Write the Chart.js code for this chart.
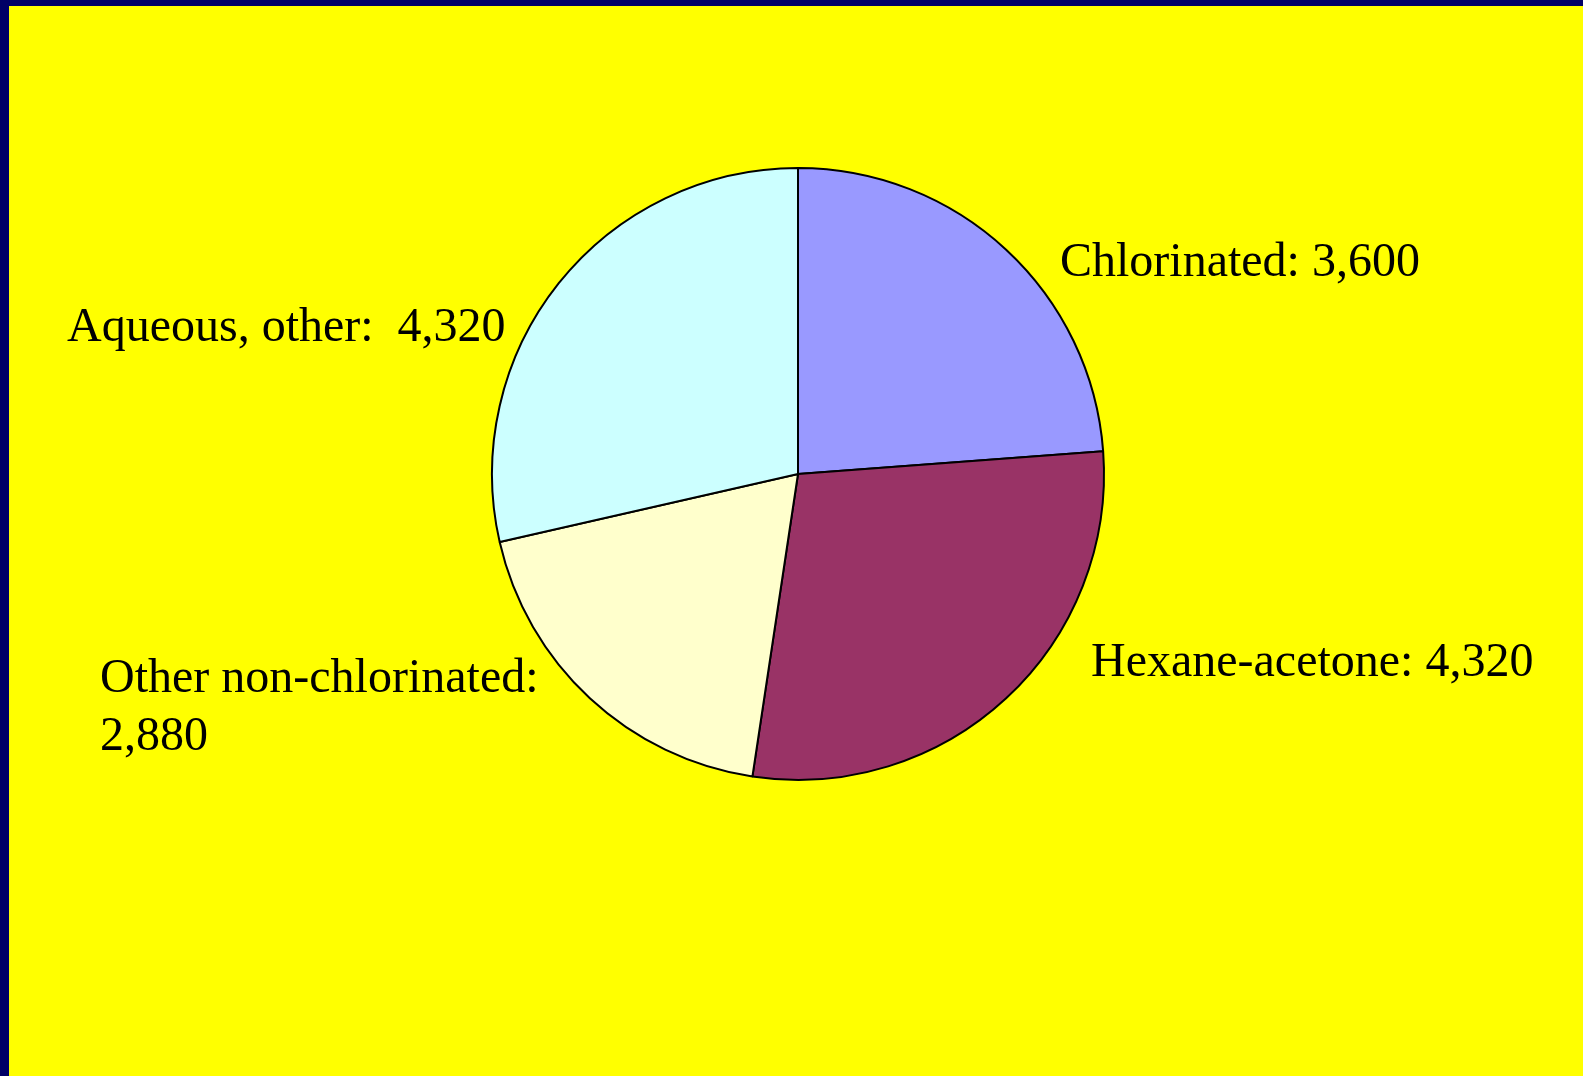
<!DOCTYPE html>
<html>
<head>
<meta charset="utf-8">
<title>Solvent waste</title>
<script src="https://cdn.jsdelivr.net/npm/chart.js@4.4.1/dist/chart.umd.min.js"></script>
<style>
  html, body { margin: 0; padding: 0; background: #000066; overflow: hidden; }
  #panel { position: absolute; left: 9px; top: 6px; width: 1574px; height: 1070px; background: #ffff00; }
  #pie { display: block; }
</style>
</head>
<body>
<div id="panel"><canvas id="pie" width="1574" height="1070"></canvas></div>
<script>
const categories = ["Chlorinated", "Hexane-acetone", "Other non-chlorinated", "Aqueous, other"];
const values = [3600, 4320, 2880, 4320];
const sliceColors = ["#9999ff", "#993366", "#ffffcc", "#ccffff"];
// label lines as they appear next to each slice
const labelLines = [
  ["Chlorinated: 3,600"],
  ["Hexane-acetone: 4,320"],
  ["Other non-chlorinated:", "2,880"],
  ["Aqueous, other:  4,320"],
];

// where each label sits, relative to the pie centre
const labelOffsets = [
  { dx: 262, dy: -198 },
  { dx: 293, dy: 202 },
  { dx: -698, dy: 218 },
  { dx: -731, dy: -133 },
];

const sliceLabels = {
  id: "sliceLabels",
  afterDraw(chart) {
    const arc = chart.getDatasetMeta(0).data[0];
    const ctx = chart.ctx;
    ctx.save();
    ctx.font = "48px 'Liberation Serif', 'Times New Roman', serif";
    ctx.fillStyle = "#000000";
    ctx.textAlign = "left";
    ctx.textBaseline = "alphabetic";
    labelLines.forEach((lines, i) => {
      const off = labelOffsets[i];
      lines.forEach((line, j) => {
        ctx.fillText(line, arc.x + off.dx, arc.y + off.dy + j * 58);
      });
    });
    ctx.restore();
  },
};

new Chart(document.getElementById("pie").getContext("2d"), {
  type: "pie",
  data: {
    labels: categories,
    datasets: [
      {
        data: values,
        backgroundColor: sliceColors,
        borderColor: "#000000",
        borderWidth: 2,
      },
    ],
  },
  options: {
    responsive: false,
    animation: false,
    radius: 306,
    layout: { padding: { left: 4, right: 0, top: 0, bottom: 134 } },
    plugins: {
      legend: { display: false },
      tooltip: { enabled: false },
    },
  },
  plugins: [sliceLabels],
});
</script>
</body>
</html>
